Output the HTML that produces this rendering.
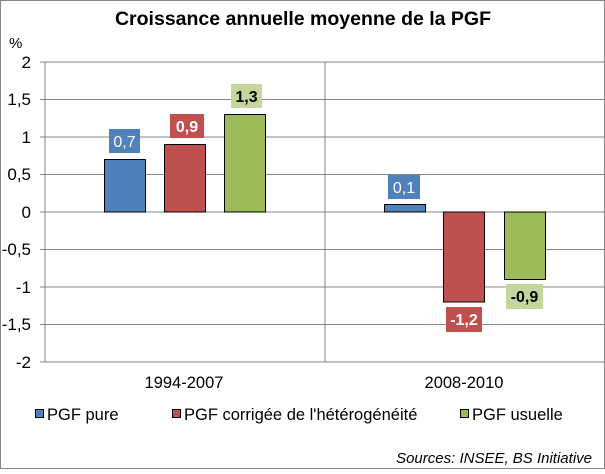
<!DOCTYPE html><html><head><style>body{margin:0;background:#fff}</style></head><body>
<svg width="605" height="469" xmlns="http://www.w3.org/2000/svg" font-family="Liberation Sans, Arial, sans-serif">
<rect x="0.5" y="0.5" width="604" height="468" fill="#fff" stroke="#868686"/>
<text x="303" y="25" text-anchor="middle" font-size="19.5" font-weight="bold">Croissance annuelle moyenne de la PGF</text>
<text x="9" y="48" font-size="15">%</text>
<g stroke="#868686" stroke-width="1">
<line x1="40" y1="62" x2="605" y2="62"/><line x1="40" y1="99.5" x2="605" y2="99.5"/><line x1="40" y1="137" x2="605" y2="137"/><line x1="40" y1="174.5" x2="605" y2="174.5"/><line x1="40" y1="212" x2="605" y2="212"/><line x1="40" y1="249.5" x2="605" y2="249.5"/><line x1="40" y1="287" x2="605" y2="287"/><line x1="40" y1="324.5" x2="605" y2="324.5"/><line x1="40" y1="362" x2="605" y2="362"/>
<line x1="45" y1="62" x2="45" y2="362"/><line x1="325" y1="62" x2="325" y2="362"/>
</g>
<g font-size="17" text-anchor="end">
<text x="31" y="68">2</text><text x="31" y="105">1,5</text><text x="31" y="143">1</text><text x="31" y="180">0,5</text><text x="31" y="218">0</text><text x="31" y="255">-0,5</text><text x="31" y="293">-1</text><text x="31" y="330">-1,5</text><text x="31" y="368">-2</text>
</g>
<g stroke="#000" stroke-width="1">
<rect x="104.5" y="159.5" width="41" height="52.5" fill="#4f81bd"/>
<rect x="164.5" y="144.5" width="41" height="67.5" fill="#c0504d"/>
<rect x="224.5" y="114.5" width="41" height="97.5" fill="#9bbb59"/>
<rect x="384.5" y="204.5" width="41" height="7.5" fill="#4f81bd"/>
<rect x="443.5" y="212" width="41" height="90" fill="#c0504d"/>
<rect x="504.5" y="212" width="41" height="67.5" fill="#9bbb59"/>
</g>
<g font-size="16" text-anchor="middle">
<rect x="109" y="129" width="31" height="24" fill="#4f81bd"/><text x="124.5" y="147" fill="#fff">0,7</text>
<rect x="170" y="114" width="34" height="24" fill="#c0504d"/><text x="187" y="132" fill="#fff" font-weight="bold">0,9</text>
<rect x="231" y="84" width="31" height="24" fill="#c3d69b"/><text x="246.5" y="102" font-weight="bold">1,3</text>
<rect x="388" y="175" width="32" height="24" fill="#4f81bd"/><text x="404" y="193" fill="#fff">0,1</text>
<rect x="446" y="307" width="36" height="25" fill="#c0504d"/><text x="464" y="325" fill="#fff" font-weight="bold">-1,2</text>
<rect x="506" y="284" width="37" height="25" fill="#c3d69b"/><text x="524.5" y="302" font-weight="bold">-0,9</text>
</g>
<g font-size="16.5" text-anchor="middle">
<text x="184" y="388">1994-2007</text><text x="464" y="388">2008-2010</text>
</g>
<g font-size="16.5">
<rect x="35.5" y="409.5" width="8" height="8" fill="#4f81bd" stroke="#000"/><text x="47" y="420">PGF pure</text>
<rect x="172.5" y="409.5" width="8" height="8" fill="#c0504d" stroke="#000"/><text x="184" y="420">PGF corrigée de l'hétérogénéité</text>
<rect x="460.5" y="409.5" width="8" height="8" fill="#9bbb59" stroke="#000"/><text x="472" y="420">PGF usuelle</text>
</g>
<text x="592" y="463" font-size="15" font-style="italic" text-anchor="end">Sources: INSEE, BS Initiative</text>
</svg></body></html>
